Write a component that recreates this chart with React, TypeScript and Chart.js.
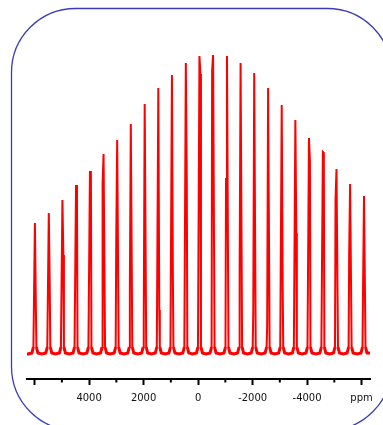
import React, { useEffect, useRef } from 'react';
import { Chart, registerables } from 'chart.js';

Chart.register(...registerables);

// Sideband positions (ppm), left to right
const peakPpm = [5990, 5480, 4980, 4480, 3970, 3470, 2970, 2470, 1960, 1460, 960, 450, -50, -550, -1060, -1560, -2060, -2570, -3070, -3570, -4070, -4580, -5080, -5580, -6090];
// Main component heights (arbitrary units above baseline)
const peakHeight = [130, 140, 153, 168, 181, 199, 213, 229, 249, 265, 278, 290, 297, 298, 297, 290, 280, 265, 248, 233, 215, 201, 184, 169, 157];
// Second (overlapping) component heights
const shoulderHeight = [48, 65, 98, 145, 181, 170, 112, 65, 35, 43, 74, 172, 279, 282, 174, 84, 41, 27, 66, 120, 191, 200, 154, 98, 65];
// Offset (ppm) of the second component from the main one
const shoulderShift = [-35, -35, -35, -35, -35, 35, 35, 35, 35, -35, -35, -35, -35, 35, 35, 35, 35, 35, -35, -35, -35, -35, 35, 35, 35];

// Axis ticks (ppm)
const xTicks = [6000, 5000, 4000, 3000, 2000, 1000, 0, -1000, -2000, -3000, -4000, -5000, -6000];
const tickLabels: Record<string, string> = {
  '4000': '4000',
  '2000': '2000',
  '0': '0',
  '-2000': '-2000',
  '-4000': '-4000',
  '-6000': 'ppm',
};

const X_MIN = -6310;
const X_MAX = 6280;

function buildSpectrum() {
  const pts: { x: number; y: number }[] = [{ x: X_MAX, y: 0 }];
  peakPpm.forEach((p, i) => {
    const s = shoulderShift[i];
    const h = peakHeight[i];
    const sh = shoulderHeight[i];
    pts.push({ x: p + 250, y: -1 });
    pts.push({ x: p + 110, y: 0 }, { x: p + 55, y: 6 });
    if (s > 0) {
      pts.push({ x: p + s, y: sh }, { x: p, y: h });
    } else {
      pts.push({ x: p, y: h }, { x: p + s, y: sh });
    }
    pts.push({ x: p - 55, y: 6 }, { x: p - 110, y: 0 });
  });
  pts.push({ x: X_MIN, y: 0 });
  return pts;
}

const isMajor = (v: number) => Math.abs(v) % 2000 === 0;

const framePlugin = {
  id: 'frame',
  afterDraw(chart: any) {
    const ctx = chart.ctx;
    ctx.save();
    // minor ticks
    const xs = chart.scales.x;
    const bottom = chart.chartArea.bottom;
    ctx.strokeStyle = '#000';
    ctx.lineWidth = 2;
    xTicks.forEach((v) => {
      if (isMajor(v)) return;
      const px = xs.getPixelForValue(v);
      ctx.beginPath();
      ctx.moveTo(px, bottom);
      ctx.lineTo(px, bottom + 3.5);
      ctx.stroke();
    });
    // rounded frame
    ctx.strokeStyle = '#3c3cb4';
    ctx.lineWidth = 1.3;
    ctx.beginPath();
    (ctx as any).roundRect(11.5, 8.5, 380, 422, 64);
    ctx.stroke();
    ctx.restore();
  },
};

export default function App() {
  const ref = useRef<HTMLCanvasElement>(null);
  useEffect(() => {
    if (!ref.current) return;
    const chart = new Chart(ref.current, {
      type: 'line',
      data: {
        datasets: [
          {
            data: buildSpectrum(),
            borderColor: '#ff0000',
            borderWidth: 2,
            pointRadius: 0,
            tension: 0,
            fill: false,
            segment: {
              borderWidth: (c: any) => (c.p0.parsed.y < 10 && c.p1.parsed.y < 10 ? 3 : 2),
            },
          } as any,
        ],
      },
      options: {
        animation: false,
        responsive: false,
        events: [],
        layout: { padding: { left: 27, right: 13, top: 48, bottom: 14 } },
        plugins: { legend: { display: false }, tooltip: { enabled: false } },
        scales: {
          x: {
            type: 'linear',
            reverse: true,
            min: X_MIN,
            max: X_MAX,
            afterBuildTicks: (scale: any) => {
              scale.ticks = xTicks.map((v) => ({ value: v }));
            },
            ticks: {
              autoSkip: false,
              maxRotation: 0,
              padding: 7,
              color: '#111',
              font: { family: 'DejaVu Sans', size: 10 },
              callback: (v: any) => tickLabels[String(v)] ?? '',
            },
            grid: {
              drawOnChartArea: false,
              drawTicks: true,
              tickLength: 6,
              tickWidth: 2,
              tickColor: (c: any) => (c.tick && isMajor(c.tick.value) ? '#000' : 'rgba(0,0,0,0)'),
            },
            border: { display: true, color: '#000', width: 2 },
          },
          y: {
            type: 'linear',
            display: false,
            min: -26,
            max: 305,
          },
        },
      },
      plugins: [framePlugin],
    } as any);
    return () => chart.destroy();
  }, []);
  return (
    <div style={{ position: 'absolute', left: 0, top: 0, width: 383, height: 425, background: '#fff' }}>
      <canvas ref={ref} width={383} height={425} style={{ display: 'block' }} />
    </div>
  );
}
